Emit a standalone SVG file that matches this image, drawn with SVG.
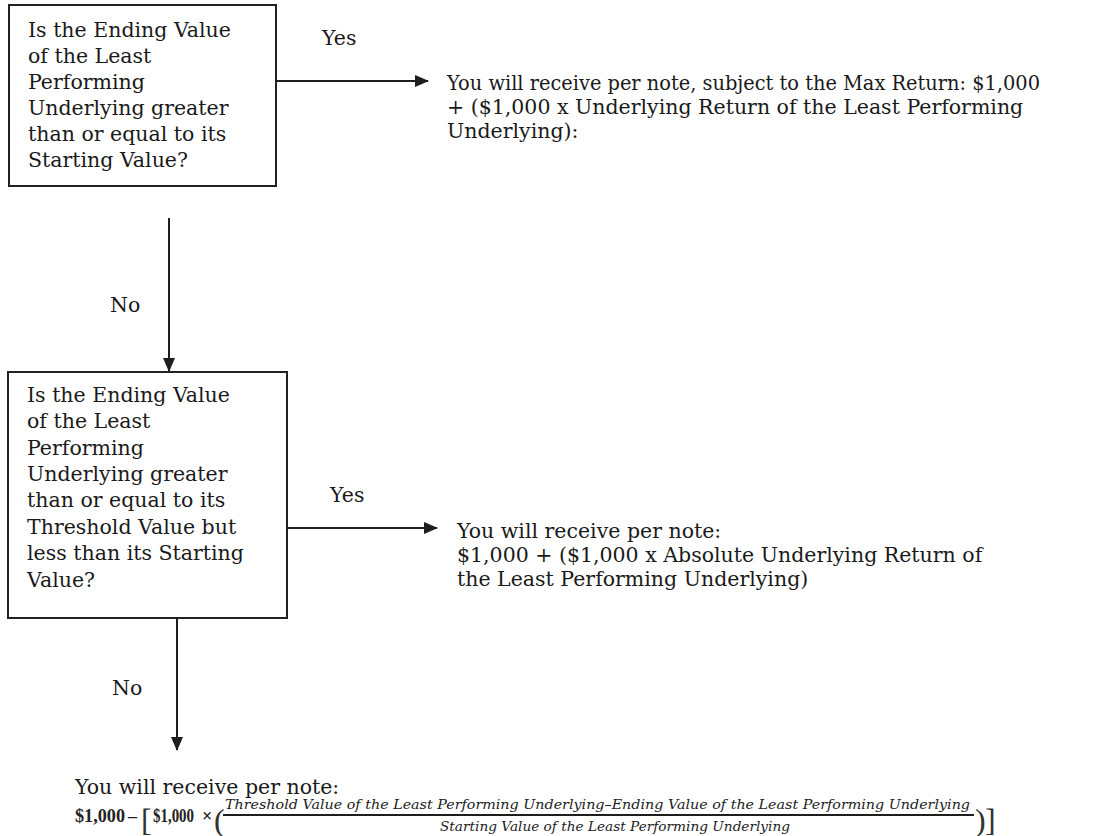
<svg xmlns="http://www.w3.org/2000/svg" width="1112" height="836" viewBox="0 0 1112 836">
<style>
.t{font-family:"DejaVu Serif","Liberation Serif",serif;font-size:20.5px;fill:#1a1a1a}
.box{fill:#fff;stroke:#222;stroke-width:2}
.ln{stroke:#1e1e1e;stroke-width:2;fill:none}
.m{font-family:"Liberation Serif",serif;font-size:18px;font-weight:bold;fill:#222}
.b{font-family:"Liberation Serif",serif;font-size:32px;fill:#333}
.f{font-family:"DejaVu Serif","Liberation Serif",serif;font-style:italic;font-size:13px;fill:#222}
</style>
<defs>
<marker id="ah" markerWidth="14" markerHeight="12" refX="13" refY="6" orient="auto" markerUnits="userSpaceOnUse">
<path d="M0,0 L14,6 L0,12 Z" fill="#1e1e1e"/>
</marker>
</defs>
<rect width="1112" height="836" fill="#fff"/>
<g id="q1">
<rect class="box" x="9" y="5" width="267" height="181"/>
<text class="t" x="28" y="37">Is the Ending Value</text>
<text class="t" x="28" y="63">of the Least</text>
<text class="t" x="28" y="89">Performing</text>
<text class="t" x="28" y="115">Underlying greater</text>
<text class="t" x="28" y="141">than or equal to its</text>
<text class="t" x="28" y="167">Starting Value?</text>
</g>
<g id="q2">
<rect class="box" x="8" y="372" width="279" height="246"/>
<text class="t" x="27" y="402">Is the Ending Value</text>
<text class="t" x="27" y="428">of the Least</text>
<text class="t" x="27" y="455">Performing</text>
<text class="t" x="27" y="481">Underlying greater</text>
<text class="t" x="27" y="507">than or equal to its</text>
<text class="t" x="27" y="534">Threshold Value but</text>
<text class="t" x="27" y="560">less than its Starting</text>
<text class="t" x="27" y="587">Value?</text>
</g>
<g id="r1">
<text class="t" x="447" y="90" textLength="593" lengthAdjust="spacingAndGlyphs">You will receive per note, subject to the Max Return: $1,000</text>
<text class="t" x="447" y="114">+ ($1,000 x Underlying Return of the Least Performing</text>
<text class="t" x="447" y="138">Underlying):</text>
</g>
<g id="r2">
<text class="t" x="457" y="538">You will receive per note:</text>
<text class="t" x="457" y="562">$1,000 + ($1,000 x Absolute Underlying Return of</text>
<text class="t" x="457" y="586">the Least Performing Underlying)</text>
</g>
<g id="r3">
<text class="t" x="75" y="794">You will receive per note:</text>
<text class="m" x="75" y="822" textLength="50" lengthAdjust="spacingAndGlyphs">$1,000</text>
<text class="m" x="128" y="822">–</text>
<text class="b" x="141" y="831">[</text>
<text class="m" x="153" y="822" textLength="41" lengthAdjust="spacingAndGlyphs">$1,000</text>
<text class="m" x="202" y="822" font-weight="normal">×</text>
<text class="b" x="214" y="831">(</text>
<text class="f" x="225" y="809" textLength="745" lengthAdjust="spacingAndGlyphs">Threshold Value of the Least Performing Underlying–Ending Value of the Least Performing Underlying</text>
<line class="ln" x1="223" y1="815" x2="974" y2="815" stroke-width="1.5"/>
<text class="f" x="440" y="831" textLength="350" lengthAdjust="spacingAndGlyphs">Starting Value of the Least Performing Underlying</text>
<text class="b" x="975" y="831">)</text>
<text class="b" x="985" y="831">]</text>
</g>
<g id="connectors">
<line class="ln" x1="276" y1="81" x2="428" y2="81" marker-end="url(#ah)"/>
<line class="ln" x1="169" y1="218" x2="169" y2="371" marker-end="url(#ah)"/>
<line class="ln" x1="287" y1="528" x2="437" y2="528" marker-end="url(#ah)"/>
<line class="ln" x1="177" y1="618" x2="177" y2="750" marker-end="url(#ah)"/>
<text class="t" x="322" y="45">Yes</text>
<text class="t" x="110" y="312">No</text>
<text class="t" x="330" y="502">Yes</text>
<text class="t" x="112" y="695">No</text>
</g>
</svg>
